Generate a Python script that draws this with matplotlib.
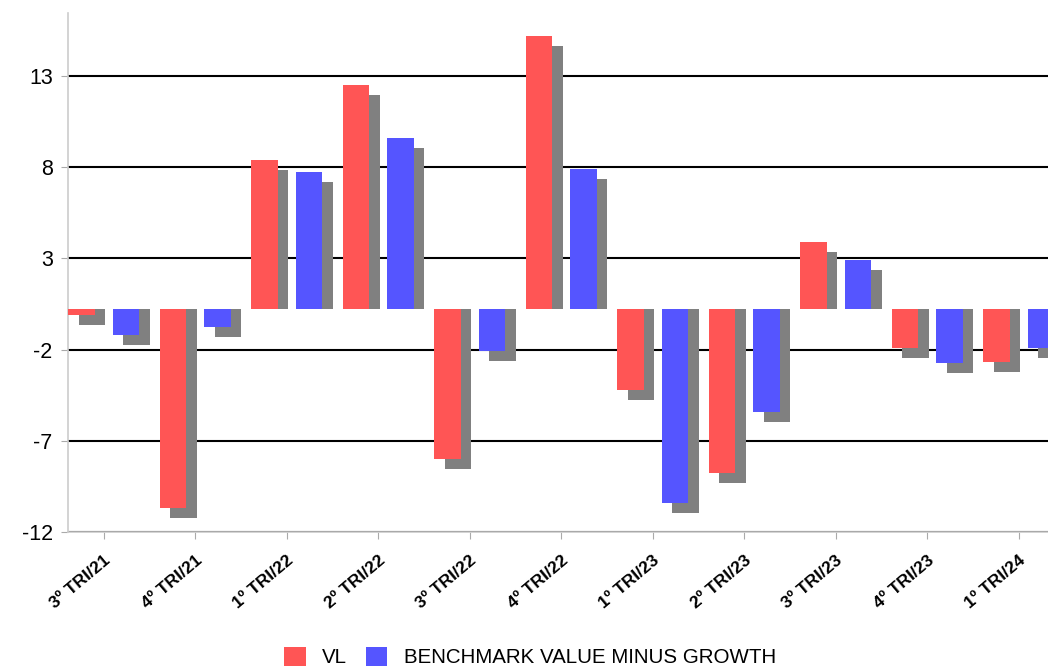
import matplotlib
matplotlib.use("Agg")
import matplotlib.pyplot as plt
import numpy as np

categories = ["3º TRI/21", "4º TRI/21", "1º TRI/22", "2º TRI/22", "3º TRI/22", "4º TRI/22",
              "1º TRI/23", "2º TRI/23", "3º TRI/23", "4º TRI/23", "1º TRI/24"]
vl = [-0.38, -10.96, 8.16, 12.27, -8.27, 14.96, -4.49, -9.0, 3.65, -2.15, -2.94]
benchmark = [-1.46, -0.99, 7.49, 9.35, -2.34, 7.65, -10.68, -5.68, 2.68, -3.01, -2.14]
series_names = ["VL", "BENCHMARK VALUE MINUS GROWTH"]
ytick_values = [-12.25, -7.25, -2.25, 2.75, 7.75, 12.75]
ytick_labels = ["-12", "-7", "-2", "3", "8", "13"]

plt.rcParams['font.family'] = ['Liberation Sans', 'DejaVu Sans']

W, H = 1048, 669
fig = plt.figure(figsize=(W / 100, H / 100), dpi=100)
ax_left, ax_bottom, ax_top = 68, 532, 13
ax = fig.add_axes([ax_left / W, (H - ax_bottom) / H, (W - ax_left) / W, (ax_bottom - ax_top) / H])

cat_px = 91.5
ymin, ymax = -12.25, 16.2
ax.set_xlim(0, (W - ax_left) / cat_px)
ax.set_ylim(ymin, ymax)

px_per_unit_y = (ax_bottom - ax_top) / (ymax - ymin)
shadow_dx = 10.5 / cat_px
shadow_dy = 10 / px_per_unit_y

x = np.arange(len(categories))
width = 0.29
red_off = 0.0
blue_off = 0.49
red = "#FF5555"
blue = "#5555FF"
gray = "#808080"

vl_arr = np.array(vl)
bm_arr = np.array(benchmark)

ax.bar(x + red_off + shadow_dx, vl_arr - shadow_dy, width=width, align='edge', color=gray, zorder=2)
ax.bar(x + red_off, vl_arr, width=width, align='edge', color=red, zorder=3, label=series_names[0])
ax.bar(x + blue_off + shadow_dx, bm_arr - shadow_dy, width=width, align='edge', color=gray, zorder=2)
ax.bar(x + blue_off, bm_arr, width=width, align='edge', color=blue, zorder=3, label=series_names[1])

ax.set_yticks(ytick_values)
ax.set_yticklabels(ytick_labels, fontsize=15.5)
ax.yaxis.grid(True, color='black', linewidth=1.5)
ax.set_axisbelow(True)

ax.set_xticks(x + (red_off + blue_off + width) / 2)
ax.set_xticklabels(categories, rotation=40, ha='right', va='top', rotation_mode='anchor',
                   fontsize=12.5, fontweight='bold')

for s in ['top', 'right']:
    ax.spines[s].set_visible(False)
for s in ['left', 'bottom']:
    ax.spines[s].set_color('#cccccc')
    ax.spines[s].set_linewidth(1.2)
ax.tick_params(axis='both', colors='#aaaaaa', length=5, labelcolor='black')
ax.tick_params(axis='x', pad=10)
ax.tick_params(axis='y', pad=6)

handles, labels = ax.get_legend_handles_labels()
fig.legend(handles, labels, loc='center', bbox_to_anchor=(530 / W, 1 - 657 / H), ncol=2,
           frameon=False, fontsize=14.8, handlelength=1.05, handleheight=1.05,
           handletextpad=0.8, columnspacing=0.9, borderpad=0)

fig.savefig("out.png", dpi=100)
